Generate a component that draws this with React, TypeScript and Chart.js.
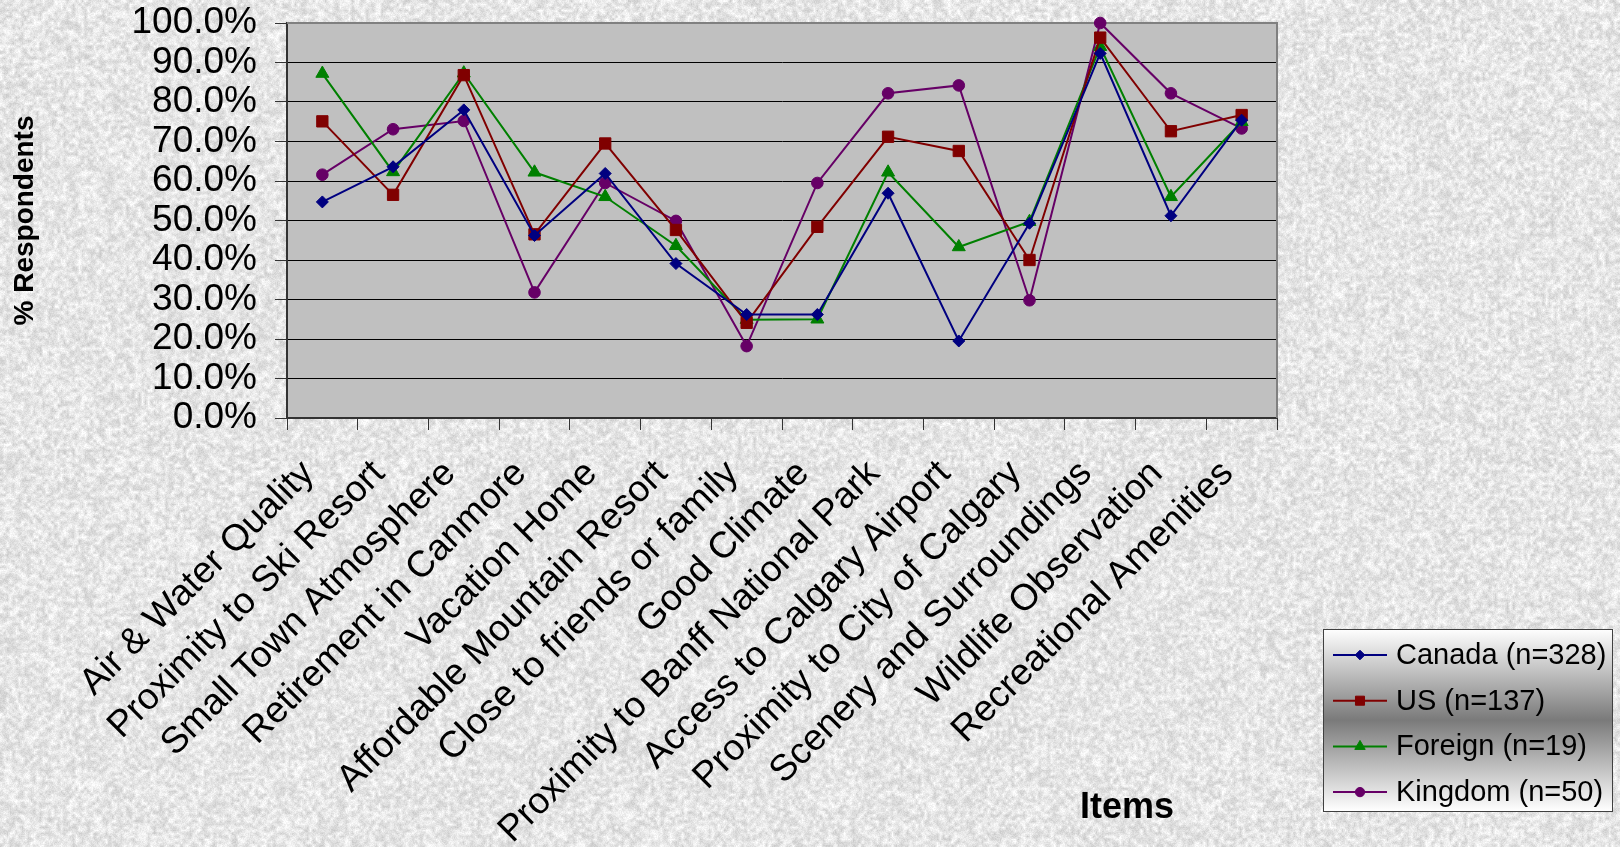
import { useEffect, useRef } from 'react';
import { Chart, registerables } from 'chart.js';
import { drawPoint } from 'chart.js/helpers';

Chart.register(...registerables);

const categories = [
  'Air & Water Quality',
  'Proximity to Ski Resort',
  'Small Town Atmosphere',
  'Retirement in Canmore',
  'Vacation Home',
  'Affordable Mountain Resort',
  'Close to friends or family',
  'Good Climate',
  'Proximity to Banff National Park',
  'Access to Calgary Airport',
  'Proximity to City of Calgary',
  'Scenery and Surroundings',
  'Wildlife Observation',
  'Recreational Amenities',
];

const canadaValues = [54.7, 63.6, 78.0, 46.2, 61.9, 39.1, 26.2, 26.2, 56.9, 19.5, 49.3, 92.3, 51.2, 75.4];
const usValues = [75.1, 56.5, 86.8, 46.5, 69.5, 47.6, 24.1, 48.4, 71.2, 67.6, 40.0, 96.3, 72.6, 76.7];
const foreignValues = [87.2, 62.3, 87.3, 62.2, 56.0, 43.6, 24.9, 25.0, 62.2, 43.3, 49.7, 94.0, 56.0, 75.0];
const kingdomValues = [61.6, 73.1, 75.2, 31.8, 59.5, 49.9, 18.2, 59.5, 82.2, 84.2, 29.8, 100.0, 82.2, 73.3];

const seriesLabels = ['Canada (n=328)', 'US (n=137)', 'Foreign (n=19)', 'Kingdom (n=50)'];
const seriesColors = ['#000080', '#800000', '#008000', '#660066'];
const seriesMarkers = ['rectRot', 'rect', 'triangle', 'circle'];
const seriesRadii = [6, 8, 7.5, 5.8];

const yTitle = '% Respondents';
const xTitle = 'Items';

const FONT = '"Liberation Sans", Arial, Helvetica, sans-serif';
const W = 1620;
const H = 847;

// Speckled stone backdrop, built once from a deterministic hash.
function hash(i: number): number {
  const s = Math.sin(i * 12.9898 + 78.233) * 43758.5453;
  return s - Math.floor(s);
}

function buildTexture(): HTMLCanvasElement {
  const out = document.createElement('canvas');
  out.width = W;
  out.height = H;
  const octx = out.getContext('2d')!;
  const cw = Math.ceil(W / 3);
  const ch = Math.ceil(H / 3);
  const coarse = document.createElement('canvas');
  coarse.width = cw;
  coarse.height = ch;
  const cctx = coarse.getContext('2d')!;
  const img = cctx.createImageData(cw, ch);
  for (let i = 0; i < cw * ch; i++) {
    const v = Math.round(230 + (hash(i) - 0.5) * 44);
    img.data[i * 4] = v;
    img.data[i * 4 + 1] = v;
    img.data[i * 4 + 2] = v;
    img.data[i * 4 + 3] = 255;
  }
  cctx.putImageData(img, 0, 0);
  octx.imageSmoothingEnabled = true;
  octx.drawImage(coarse, 0, 0, W, H);
  const fine = octx.getImageData(0, 0, W, H);
  for (let i = 0; i < W * H; i++) {
    const d = Math.round((hash(i + 99991) - 0.5) * 18);
    fine.data[i * 4] += d;
    fine.data[i * 4 + 1] += d;
    fine.data[i * 4 + 2] += d;
  }
  octx.putImageData(fine, 0, 0);
  return out;
}

const backdropPlugin = {
  id: 'backdrop',
  beforeDraw(chart: any) {
    const { ctx, chartArea: a } = chart;
    ctx.save();
    if (!chart.$texture) chart.$texture = buildTexture();
    ctx.drawImage(chart.$texture, 0, 0, chart.width, chart.height);
    ctx.fillStyle = '#c0c0c0';
    ctx.fillRect(a.left, a.top, a.right - a.left, a.bottom - a.top);
    ctx.restore();
  },
  beforeDatasetsDraw(chart: any) {
    const { ctx, chartArea: a } = chart;
    ctx.save();
    ctx.strokeStyle = '#808080';
    ctx.lineWidth = 2;
    ctx.beginPath();
    ctx.moveTo(a.left, a.top);
    ctx.lineTo(a.right, a.top);
    ctx.lineTo(a.right, a.bottom);
    ctx.stroke();
    ctx.restore();
  },
};

const legendPlugin = {
  id: 'boxLegend',
  afterDraw(chart: any) {
    const { ctx } = chart;
    const bx = 1323;
    const by = 629;
    const bw = 289;
    const bh = 182;
    ctx.save();
    const g = ctx.createLinearGradient(0, by, 0, by + bh);
    g.addColorStop(0, '#ffffff');
    g.addColorStop(0.5, '#7a7a7a');
    g.addColorStop(1, '#ffffff');
    ctx.fillStyle = g;
    ctx.fillRect(bx, by, bw, bh);
    ctx.strokeStyle = '#404040';
    ctx.lineWidth = 1;
    ctx.strokeRect(bx + 0.5, by + 0.5, bw, bh);

    ctx.font = `29px ${FONT}`;
    ctx.textBaseline = 'middle';
    ctx.textAlign = 'left';
    chart.data.datasets.forEach((ds: any, i: number) => {
      const y = 655 + i * 45.7;
      ctx.strokeStyle = ds.borderColor;
      ctx.fillStyle = ds.borderColor;
      ctx.lineWidth = 2;
      ctx.beginPath();
      ctx.moveTo(1333, y);
      ctx.lineTo(1387, y);
      ctx.stroke();
      ctx.lineWidth = 1;
      drawPoint(ctx, { pointStyle: ds.pointStyle, rotation: 0, radius: ds.pointRadius * 0.8, borderWidth: 1 }, 1360, y);
      ctx.fillStyle = '#000000';
      ctx.fillText(ds.label, 1396, y + 1);
    });

    ctx.font = `bold 36px ${FONT}`;
    ctx.textAlign = 'center';
    ctx.fillText(xTitle, 1127, 808);
    ctx.restore();
  },
};

export default function App() {
  const canvasRef = useRef<HTMLCanvasElement | null>(null);

  useEffect(() => {
    document.body.style.margin = '0';
    document.body.style.overflow = 'hidden';
    const canvas = canvasRef.current;
    if (!canvas) return;

    const valueSets = [canadaValues, usValues, foreignValues, kingdomValues];
    const chart = new Chart(canvas, {
      type: 'line',
      data: {
        labels: categories,
        datasets: valueSets.map((values, i) => ({
          label: seriesLabels[i],
          data: values,
          borderColor: seriesColors[i],
          backgroundColor: seriesColors[i],
          pointBackgroundColor: seriesColors[i],
          pointBorderColor: seriesColors[i],
          pointStyle: seriesMarkers[i],
          pointRadius: seriesRadii[i],
          pointBorderWidth: 1,
          borderWidth: 2,
          tension: 0,
          fill: false,
          clip: 10,
        })),
      },
      options: {
        animation: false,
        responsive: false,
        maintainAspectRatio: false,
        layout: { padding: { top: 23, right: 343, bottom: 0, left: 0 } },
        plugins: {
          legend: { display: false },
          tooltip: { enabled: false },
        },
        scales: {
          x: {
            type: 'category',
            offset: true,
            grid: {
              offset: true,
              drawOnChartArea: false,
              drawTicks: true,
              tickLength: 12,
              color: '#333333',
              tickColor: '#333333',
            },
            border: { color: '#333333', width: 2 },
            ticks: {
              autoSkip: false,
              maxRotation: 45,
              minRotation: 45,
              padding: 22,
              labelOffset: -14,
              color: '#000000',
              font: { family: FONT, size: 37 },
            },
            afterFit(scale: any) {
              scale.height = 429;
              scale.paddingLeft = 0;
              scale.paddingRight = 0;
            },
          },
          y: {
            min: 0,
            max: 100,
            grid: {
              color: (c: any) => (c.tick && c.tick.value === 100 ? '#808080' : '#000000'),
              tickColor: '#333333',
              tickLength: 12,
              lineWidth: 1,
            },
            border: { color: '#333333', width: 2 },
            ticks: {
              stepSize: 10,
              autoSkip: false,
              padding: 18,
              color: '#000000',
              font: { family: FONT, size: 37 },
              callback: (v: any) => `${Number(v).toFixed(1)}%`,
            },
            title: {
              display: true,
              text: yTitle,
              color: '#000000',
              font: { family: FONT, size: 28, weight: 'bold' },
              padding: { top: 8, bottom: 0 },
            },
            afterFit(scale: any) {
              scale.width = 287;
              scale.paddingTop = 0;
              scale.paddingBottom = 0;
            },
          },
        },
      },
      plugins: [backdropPlugin, legendPlugin],
    } as any);

    return () => chart.destroy();
  }, []);

  return (
    <div style={{ position: 'relative', width: W, height: H }}>
      <canvas ref={canvasRef} width={W} height={H} style={{ display: 'block', width: W, height: H }} />
    </div>
  );
}
